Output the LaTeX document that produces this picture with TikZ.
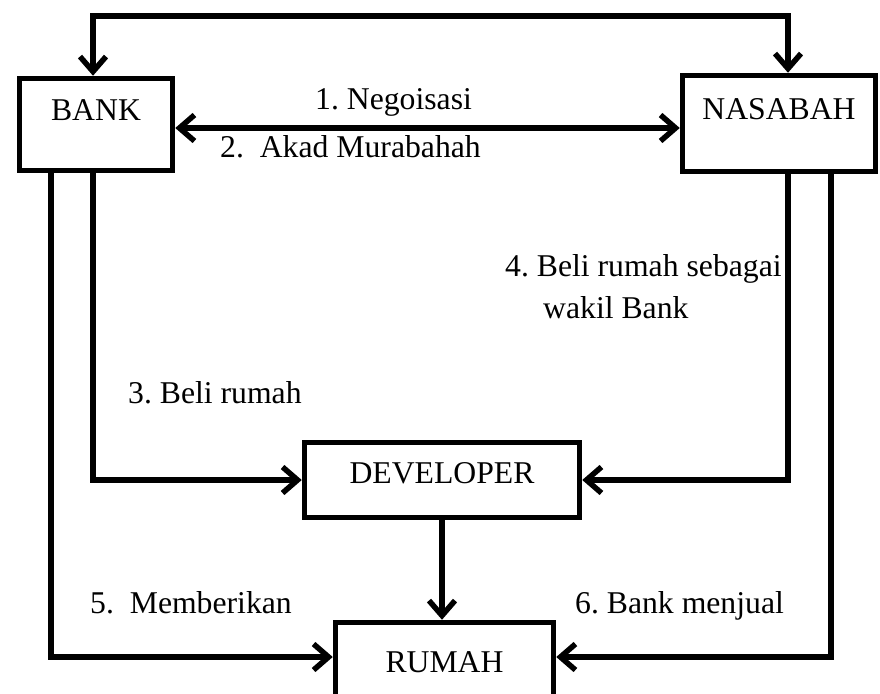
\documentclass[tikz,border=0pt]{standalone}
\usepackage{fontspec}
\setmainfont{Liberation Serif}
\usetikzlibrary{arrows.meta}
\begin{document}
\frenchspacing
\begin{tikzpicture}[x=1pt,y=-1pt,
  box/.style={draw, line width=5.5pt, inner sep=0pt, font=\fontsize{31.7}{38}\selectfont},
  lbl/.style={inner sep=0pt, anchor=base west, font=\fontsize{31.7}{38}\selectfont},
  conn/.style={line width=5.5pt, line join=miter, -{Straight Barb[length=15pt,width=26pt]}},
  conn2/.style={line width=5.5pt, line join=miter, {Straight Barb[length=15pt,width=26pt]}-{Straight Barb[length=15pt,width=26pt]}}]
\clip (0,0) rectangle (880,693);
\fill[white] (0,0) rectangle (880,693);

% boxes
\node[box, minimum width=153pt, text height=41.5pt, text depth=50.5pt] (bank) at (96,124.5) {BANK};
\node[box, minimum width=193pt, text height=43.5pt, text depth=52.5pt] (nasabah) at (779,123.5) {NASABAH};
\node[box, minimum width=275pt, text height=40.5pt, text depth=34.5pt] (developer) at (442,480) {DEVELOPER};
\node[box, minimum width=218pt, text height=49.5pt, text depth=48pt] (rumah) at (444.5,671.25) {RUMAH};

% helper coordinates
\coordinate (tl) at (93,16);
\coordinate (tr) at (788,16);
\coordinate (mid) at (400,128);
\coordinate (bl) at (51,0);
\coordinate (br) at (831,0);
\coordinate (low) at (0,657);

% connectors
\draw[conn2] (tl |- bank.north) -- (tl) -- (tr) -- (tr |- nasabah.north);
\draw[conn2] (bank.east |- mid) -- (nasabah.west |- mid);
\draw[conn] (tl |- bank.south) -- (tl |- developer.west) -- (developer.west);
\draw[conn] (tr |- nasabah.south) -- (tr |- developer.east) -- (developer.east);
\draw[conn] (bl |- bank.south) -- (bl |- low) -- (rumah.west |- low);
\draw[conn] (br |- nasabah.south) -- (br |- low) -- (rumah.east |- low);
\draw[conn] (developer.south) -- (developer.south |- rumah.north);

% labels
\node[lbl] (l1) at (315,109) {1. Negoisasi};
\node[lbl] (l2) at (220,157) {2.~ Akad Murabahah};
\node[lbl] (l3) at (128,403) {3. Beli rumah};
\node[lbl] (l4a) at (505,276) {4. Beli rumah sebagai};
\node[lbl] (l4b) at (543,318) {wakil Bank};
\node[lbl] (l5) at (90,613) {5.~ Memberikan};
\node[lbl] (l6) at (575,613) {6. Bank menjual};
\end{tikzpicture}
\end{document}
